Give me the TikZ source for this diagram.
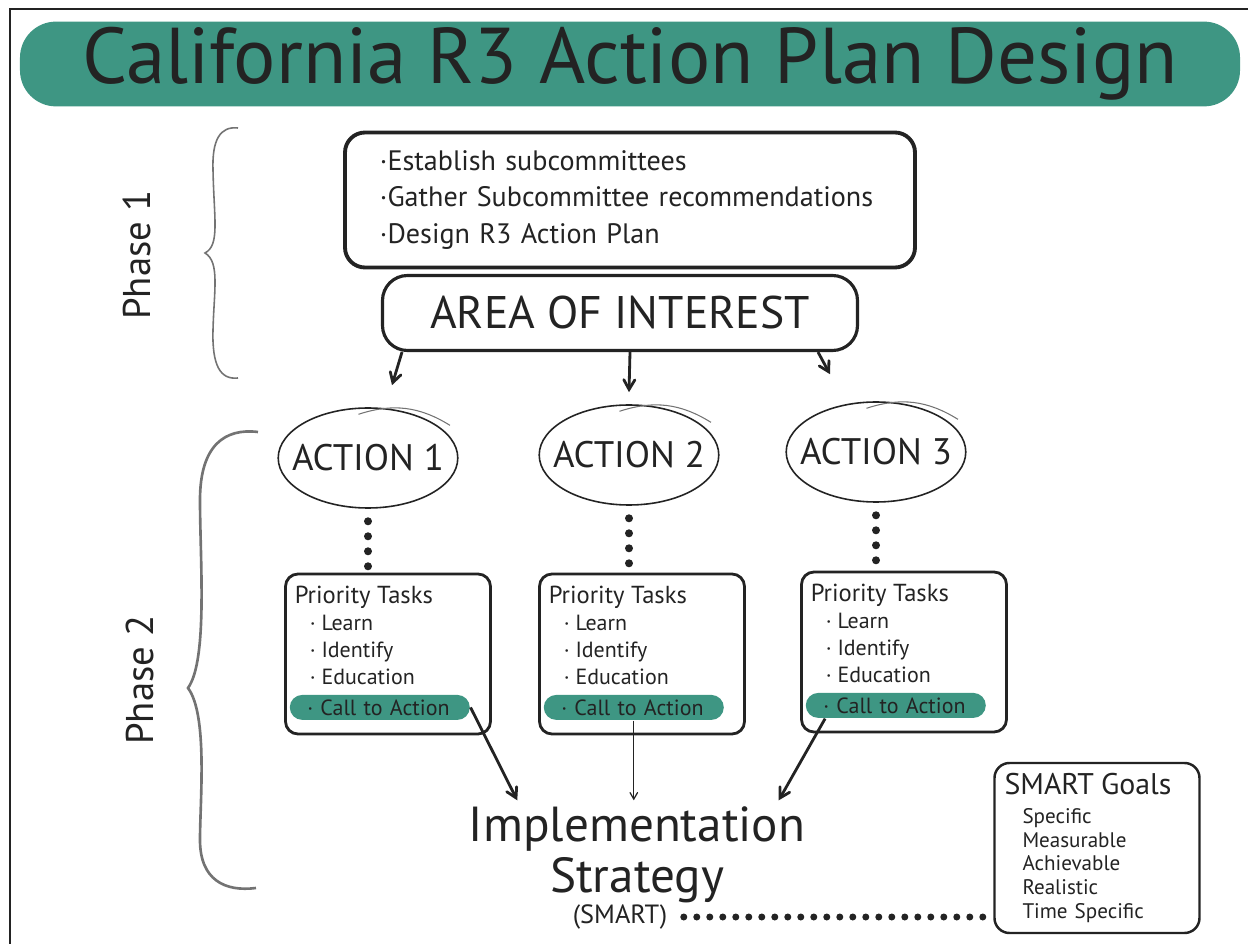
\documentclass[tikz,border=0pt]{standalone}
\usepackage{fontspec}
\setmainfont{PT Sans}
\usetikzlibrary{positioning, arrows, shapes.geometric}

\definecolor{planteal}{RGB}{62,150,131}
\definecolor{ink}{RGB}{35,35,35}
\definecolor{bracegray}{RGB}{115,115,115}

\begin{document}
\begin{tikzpicture}[x=0.2mm,y=-0.2mm,>=angle 60,thick,color=ink,
    title bar/.style={fill=planteal,rounded corners=7.2mm,minimum width=244mm,minimum height=14.4mm,font=\fontsize{45}{50}\selectfont},
    plan box/.style={draw,rounded corners=4mm,line width=2.2pt,minimum width=114mm,minimum height=27mm,align=left,text width=100mm,font=\fontsize{16}{21}\selectfont},
    interest box/.style={draw,rounded corners=5mm,line width=1.8pt,minimum width=95mm,minimum height=15mm,font=\fontsize{26}{30}\selectfont},
    action node/.style={draw,ellipse,line width=0.9pt,inner xsep=-2.5mm,inner ysep=0pt,minimum height=20mm,font=\fontsize{21}{26}\selectfont},
    accent/.style={line width=0.6pt,draw=bracegray},
    task box/.style={draw,rounded corners=2.5mm,line width=1.6pt,minimum width=41mm,minimum height=32mm},
    task list/.style={align=left,inner sep=0pt,anchor=north west,font=\fontsize{12.5}{15.3}\selectfont},
    call node/.style={fill=planteal,rounded corners=2.5mm,anchor=west,minimum height=5mm,inner xsep=3.5mm,inner ysep=0pt,text width=29mm,align=left,font=\fontsize{12.5}{15}\selectfont},
    dot line/.style={line width=1.6mm,line cap=round,dash pattern=on 0pt off 3mm},
    phase label/.style={rotate=90,font=\fontsize{22}{26}\selectfont},
    brace line/.style={draw=bracegray},
    impl node/.style={align=center,font=\fontsize{28}{29}\selectfont},
    goal box/.style={draw,rounded corners=3mm,line width=1.4pt,minimum width=41mm,minimum height=34mm,align=left,text width=37mm,font=\fontsize{12}{13.6}\selectfont}]

\useasboundingbox (0,0) rectangle (1248,944);

% frame
\draw[line width=1.1pt] (1248,9) -- (10,9) -- (10,944);

% title
\node[title bar] (TITLE) at (630,64) {California R3 Action Plan Design};

% phase 1
\node[phase label] (PHASE1) at (137,255) {Phase 1};
\draw[brace line,line width=0.9pt] (238,128) .. controls (220,126) and (212,140) .. (213,170)
    .. controls (214,220) and (220,245) .. (205,253)
    .. controls (220,262) and (214,290) .. (213,330)
    .. controls (212,365) and (220,380) .. (238,378);

\node[plan box] (PLAN) at (630,200) {·Establish subcommittees\\ ·Gather Subcommittee recommendations\\ ·Design R3 Action Plan};
\node[interest box] (AOI) at (620,313) {AREA OF INTEREST};

% phase 2
\node[phase label] (PHASE2) at (140,680) {Phase 2};
\draw[brace line,line width=1.5pt] (258,432) .. controls (225,428) and (200,445) .. (200,500)
    .. controls (200,560) and (208,660) .. (188,688)
    .. controls (208,715) and (200,800) .. (200,840)
    .. controls (200,880) and (225,892) .. (256,888);

\node[action node] (ACT1) at (368,458) {ACTION 1};
\node[action node] (ACT2) at (629,455) {ACTION 2};
\node[action node] (ACT3) at (876,452) {ACTION 3};

\foreach \a in {ACT1,ACT2,ACT3}
  \draw[accent] ([shift={(-1mm,-1.4mm)}]\a.95) to[bend left=25] ([shift={(1.2mm,1mm)}]\a.20);

\node[task box] (TASK1) at (388,654) {};
\node[task box] (TASK2) at (642,654) {};
\node[task box] (TASK3) at (904,652) {};

\foreach \n in {1,2,3}{
  \node[task list] (LIST\n) at ([shift={(2mm,-2.6mm)}]TASK\n.north west)
    {{\fontsize{14}{15.3}\selectfont Priority Tasks}\\ \hspace*{3mm}· Learn\\ \hspace*{3mm}· Identify\\ \hspace*{3mm}· Education};
  \node[call node] (CALL\n) at ([shift={(1mm,5.6mm)}]TASK\n.south west) {· Call to Action};
}

% dots under the actions
\foreach \n in {1,2,3}
  \draw[dot line] ([yshift=-2.5mm]ACT\n.south) -- (ACT\n.south |- TASK\n.north);

\node[impl node] (IMPL) at (637,855) {Implementation\\ Strategy};
\node[font=\fontsize{15}{18}\selectfont] (SMART) at (620,917) {(SMART)};

\node[goal box] (GOALS) at (1097,848)
  {{\fontsize{17}{20}\selectfont SMART Goals}\\[1mm] \hspace*{3.6mm}Specific\\ \hspace*{3.6mm}Measurable\\ \hspace*{3.6mm}Achievable\\ \hspace*{3.6mm}Realistic\\ \hspace*{3.6mm}Time Specific};

\draw[line width=1.4mm,line cap=round,dash pattern=on 0pt off 2.6mm] ([xshift=2mm]SMART.east) -- (SMART.east -| GOALS.west);

\path[->,line width=1.6pt]
(AOI.south) ++(-43.6mm,0) edge ([shift={(4.8mm,4.4mm)}]ACT1.north)
([xshift=2mm]AOI.south) edge ([yshift=2.4mm]ACT2.north)
([xshift=39.6mm]AOI.south) edge ([shift={(-9.2mm,5.4mm)}]ACT3.north)
(CALL1.east) edge ([xshift=11mm]IMPL.north west)
([xshift=4mm]CALL3.south west) edge ([xshift=-6.6mm]IMPL.north east);

\draw[->,line width=0.7pt] (CALL2.south) -- (CALL2.south |- IMPL.north);

\end{tikzpicture}
\end{document}
